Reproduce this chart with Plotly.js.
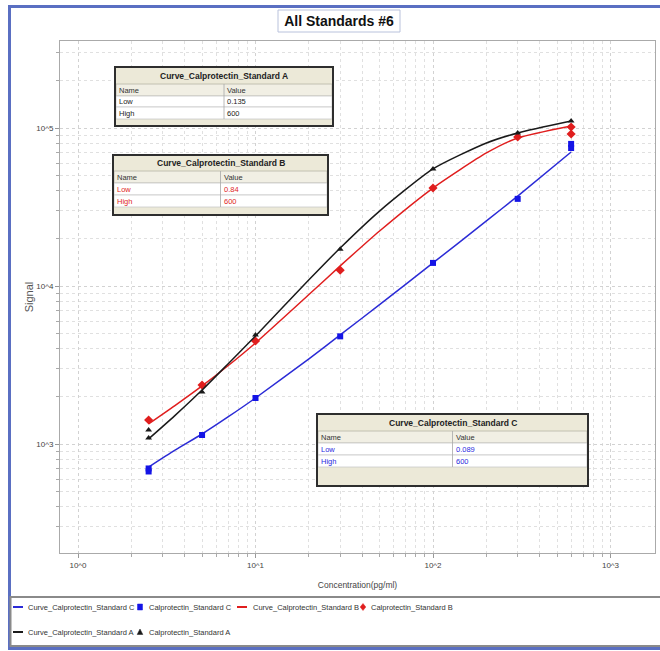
<!DOCTYPE html>
<html>
<head>
<meta charset="utf-8">
<script src="https://cdn.plot.ly/plotly-3.0.1.min.js"></script>
<style>
html,body{margin:0;padding:0;background:#ffffff;}
#chart{width:660px;height:651px;}
</style>
</head>
<body>
<div id="chart"></div>
<script>
// ---------------- DATA ----------------
const stdC_x = [2.5, 2.5, 5, 10, 30, 100, 300, 600, 600];
const stdC_y = [700, 670, 1140, 1955, 4800, 14000, 35600, 79300, 74700];
const stdB_x = [2.5, 5, 10, 30, 100, 300, 600, 600];
const stdB_y = [1420, 2360, 4490, 12600, 41700, 87700, 101500, 91600];
const stdA_x = [2.5, 2.5, 5, 10, 30, 100, 300, 600];
const stdA_y = [1227, 1092, 2133, 4900, 17100, 55100, 93000, 110700];

const curve_x  = [2.5, 3.5, 5, 7, 10, 20, 30, 50, 100, 200, 300, 600];
const curveC_y = [714, 910, 1157, 1483, 1955, 3460, 4900, 7620, 14000, 25800, 37100, 70500];
const curveB_y = [1340, 1742, 2330, 3126, 4360, 8830, 13400, 22300, 41700, 69500, 86400, 103000];
const curveA_y = [1077, 1507, 2196, 3213, 4830, 10940, 17400, 29800, 55100, 80400, 93000, 110700];

const seriesNames = ['Curve_Calprotectin_Standard C', 'Calprotectin_Standard C',
                     'Curve_Calprotectin_Standard B', 'Calprotectin_Standard B',
                     'Curve_Calprotectin_Standard A', 'Calprotectin_Standard A'];

const tableTitles = ['Curve_Calprotectin_Standard A', 'Curve_Calprotectin_Standard B', 'Curve_Calprotectin_Standard C'];
const tableHeader = ['Name', 'Value'];
const tableRowNames = ['Low', 'High'];
const tableLow  = ['0.135', '0.84', '0.089'];
const tableHigh = ['600', '600', '600'];

const xTickVals = [1, 10, 100, 1000];
const xTickText = ['10^0', '10^1', '10^2', '10^3'];
const yTickVals = [1000, 10000, 100000];
const yTickText = ['10^3', '10^4', '10^5'];

const chartTitle = 'All Standards #6';
const xTitle = 'Concentration(pg/ml)';
const yTitle = 'Signal';

// ---------------- LAYOUT HELPERS ----------------
const W = 660, H = 651;
const mL = 60, mR = 5, mT = 41, mB = 98;
const PW = W - mL - mR, PH = H - mT - mB;
function X(p){ return (p - mL) / PW; }
function Y(p){ return (H - mB - p) / PH; }

const FONT = 'Arial, "Liberation Sans", sans-serif';

const colC = '#2b2bd6', colB = '#e01e1e', colA = '#1a1a1a';
const mkC = '#1414e6';

function minorVals(lo, hi){
  const v = [];
  for (let d = lo; d <= hi; d++) for (let k = 2; k <= 9; k++) v.push(k * Math.pow(10, d));
  return v;
}

const traces = [
  {x: curve_x, y: curveC_y, name: seriesNames[0], mode: 'lines', type: 'scatter',
   line: {color: colC, width: 1.5, shape: 'spline', smoothing: 0.6}},
  {x: stdC_x, y: stdC_y, name: seriesNames[1], mode: 'markers', type: 'scatter',
   marker: {color: mkC, symbol: 'square', size: 6}},
  {x: curve_x, y: curveB_y, name: seriesNames[2], mode: 'lines', type: 'scatter',
   line: {color: colB, width: 1.5, shape: 'spline', smoothing: 0.6}},
  {x: stdB_x, y: stdB_y, name: seriesNames[3], mode: 'markers', type: 'scatter',
   marker: {color: colB, symbol: 'diamond', size: 7}},
  {x: curve_x, y: curveA_y, name: seriesNames[4], mode: 'lines', type: 'scatter',
   line: {color: colA, width: 1.5, shape: 'spline', smoothing: 0.6}},
  {x: stdA_x, y: stdA_y, name: seriesNames[5], mode: 'markers', type: 'scatter',
   marker: {color: colA, symbol: 'triangle-up', size: 6}}
];

const shapes = [];
const annotations = [];

// outer blue frame
shapes.push({type: 'rect', xref: 'paper', yref: 'paper', layer: 'below',
  x0: X(9.5), x1: X(670), y0: Y(648.5), y1: Y(6.5),
  line: {color: '#5a6fc2', width: 3}, fillcolor: 'rgba(0,0,0,0)'});
// title box
shapes.push({type: 'rect', xref: 'paper', yref: 'paper',
  x0: X(278), x1: X(400), y0: Y(32), y1: Y(10),
  line: {color: '#b9c2dc', width: 1}, fillcolor: 'rgba(255,255,255,0)'});
// legend box
shapes.push({type: 'rect', xref: 'paper', yref: 'paper',
  x0: X(10.5), x1: X(668), y0: Y(646), y1: Y(597),
  line: {color: '#8a8a8a', width: 2}, fillcolor: 'rgba(255,255,255,0)'});

// ---- legend (drawn as annotations + glyphs) ----
const legendItems = [
  {kind: 'line', color: colC, sx: 13, tx: 26, row: 0},
  {kind: 'square', color: mkC, sx: 140, tx: 147, row: 0},
  {kind: 'line', color: colB, sx: 237, tx: 251, row: 0},
  {kind: 'diamond', color: colB, sx: 363, tx: 369, row: 0},
  {kind: 'line', color: colA, sx: 13, tx: 26, row: 1},
  {kind: 'triangle', color: colA, sx: 140, tx: 147, row: 1}
];
const rowY = [607, 632];
legendItems.forEach((it, i) => {
  const yy = rowY[it.row];
  if (it.kind === 'line') {
    shapes.push({type: 'line', xref: 'paper', yref: 'paper', x0: X(it.sx), x1: X(it.sx + 10), y0: Y(yy), y1: Y(yy),
      line: {color: it.color, width: 2}});
  } else {
    let p;
    if (it.kind === 'square') {
      p = [[it.sx - 2.5, yy - 3], [it.sx + 2.5, yy - 3], [it.sx + 2.5, yy + 3], [it.sx - 2.5, yy + 3]];
    } else if (it.kind === 'diamond') {
      p = [[it.sx, yy - 3.5], [it.sx + 2.8, yy], [it.sx, yy + 3.5], [it.sx - 2.8, yy]];
    } else {
      p = [[it.sx, yy - 3], [it.sx + 2.8, yy + 2.5], [it.sx - 2.8, yy + 2.5]];
    }
    const path = 'M' + p.map(q => X(q[0]) + ',' + Y(q[1])).join(' L') + ' Z';
    shapes.push({type: 'path', xref: 'paper', yref: 'paper', path: path,
      fillcolor: it.color, line: {color: it.color, width: 0.5}});
  }
  annotations.push({xref: 'paper', yref: 'paper', x: X(it.tx), y: Y(yy), text: seriesNames[i],
    showarrow: false, xanchor: 'left', yanchor: 'middle', font: {family: FONT, size: 7.5, color: '#333'}});
});

// ---- tables ----
const tableBoxes = [
  {L: 115, R: 333, rows: [67, 84, 96, 107, 119, 126]},
  {L: 113, R: 328, rows: [155, 171, 183, 195, 207, 215]},
  {L: 317, R: 588, rows: [414, 431, 443, 455, 467, 486]}
];
const tableColors = ['#222222', colB, '#2a2ae0'];
tableBoxes.forEach((b, i) => {
  const r = b.rows, mid = (b.L + b.R) / 2;
  const col = tableColors[i];
  shapes.push({type: 'rect', xref: 'paper', yref: 'paper', x0: X(b.L), x1: X(b.R), y0: Y(r[5]), y1: Y(r[0]),
    line: {color: '#d9d6c8', width: 0}, fillcolor: '#ece9d8'});
  shapes.push({type: 'rect', xref: 'paper', yref: 'paper', x0: X(b.L + 1), x1: X(b.R - 1), y0: Y(r[2]), y1: Y(r[1]),
    line: {color: '#b8b5a6', width: 0.8}, fillcolor: '#f1efe4'});
  for (let k = 0; k < 2; k++) {
    shapes.push({type: 'rect', xref: 'paper', yref: 'paper', x0: X(b.L + 1), x1: X(b.R - 1), y0: Y(r[3 + k]), y1: Y(r[2 + k]),
      line: {color: '#c9c9c9', width: 0.8}, fillcolor: '#ffffff'});
  }
  shapes.push({type: 'line', xref: 'paper', yref: 'paper', x0: X(mid), x1: X(mid), y0: Y(r[4]), y1: Y(r[1]),
    line: {color: '#a8a8a8', width: 0.8}});
  shapes.push({type: 'rect', xref: 'paper', yref: 'paper', x0: X(b.L), x1: X(b.R), y0: Y(r[5]), y1: Y(r[0]),
    line: {color: '#2e2e2e', width: 2}, fillcolor: 'rgba(0,0,0,0)'});

  annotations.push({xref: 'paper', yref: 'paper', x: X(mid), y: Y((r[0] + r[1]) / 2), text: '<b>' + tableTitles[i] + '</b>',
    showarrow: false, xanchor: 'center', yanchor: 'middle', font: {family: FONT, size: 8.5, color: '#222'}});
  const cells = [[tableHeader[0], tableHeader[1], '#333333'],
                 [tableRowNames[0], tableLow[i], col],
                 [tableRowNames[1], tableHigh[i], col]];
  cells.forEach((c, k) => {
    const yc = Y((r[1 + k] + r[2 + k]) / 2);
    annotations.push({xref: 'paper', yref: 'paper', x: X(b.L + 2), y: yc, text: c[0], showarrow: false,
      xanchor: 'left', yanchor: 'middle', font: {family: FONT, size: 7.5, color: c[2]}});
    annotations.push({xref: 'paper', yref: 'paper', x: X(mid + 1), y: yc, text: c[1], showarrow: false,
      xanchor: 'left', yanchor: 'middle', font: {family: FONT, size: 7.5, color: c[2]}});
  });
});

const gridC = '#d2d2d2', minorC = '#e0e0e0';

const layout = {
  width: W, height: H,
  margin: {l: mL, r: mR, t: mT, b: mB, pad: 0},
  paper_bgcolor: '#ffffff', plot_bgcolor: '#ffffff',
  title: {text: '<b>' + chartTitle + '</b>', x: 339 / W, xanchor: 'center', y: 1 - 21 / H, yanchor: 'middle',
          xref: 'container', yref: 'container', font: {family: FONT, size: 14, color: '#111'}},
  showlegend: false,
  xaxis: {type: 'log', range: [(60 - 78) / 177.5, (655 - 78) / 177.5],
          tickmode: 'array', tickvals: xTickVals, ticktext: xTickText,
          ticks: 'outside', ticklen: 4, tickcolor: '#999',
          tickfont: {family: FONT, size: 8, color: '#444'},
          showline: true, linecolor: '#aaaaaa', linewidth: 1, mirror: true,
          showgrid: true, gridcolor: gridC, griddash: 'dot', gridwidth: 1,
          minor: {tickmode: 'array', tickvals: minorVals(0, 3), ticks: 'outside', ticklen: 3, tickcolor: '#aaa',
                  showgrid: true, gridcolor: minorC, griddash: 'dot', gridwidth: 1},
          zeroline: false, automargin: false,
          title: {text: xTitle, font: {family: FONT, size: 8.5, color: '#444'}, standoff: 13}},
  yaxis: {type: 'log', range: [3 - (553 - 444) / 158, 5 + (128 - 41) / 158],
          tickmode: 'array', tickvals: yTickVals, ticktext: yTickText,
          ticks: 'outside', ticklen: 4, tickcolor: '#999',
          tickfont: {family: FONT, size: 8, color: '#444'},
          showline: true, linecolor: '#aaaaaa', linewidth: 1, mirror: true,
          showgrid: true, gridcolor: gridC, griddash: 'dot', gridwidth: 1,
          minor: {tickmode: 'array', tickvals: minorVals(2, 5), ticks: 'outside', ticklen: 3, tickcolor: '#aaa',
                  showgrid: true, gridcolor: minorC, griddash: 'dot', gridwidth: 1},
          zeroline: false, automargin: false,
          title: {text: yTitle, font: {family: FONT, size: 11, color: '#555'}, standoff: 0}},
  shapes: shapes,
  annotations: annotations
};

Plotly.newPlot('chart', traces, layout, {displayModeBar: false, staticPlot: true});
</script>
</body>
</html>
